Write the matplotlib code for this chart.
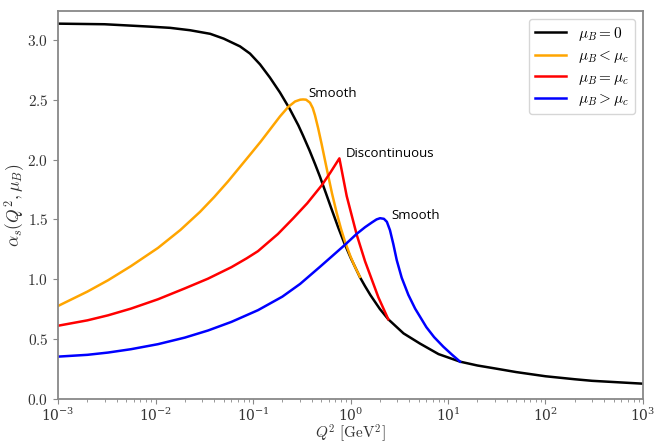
import matplotlib
matplotlib.use('Agg')
import matplotlib.pyplot as plt
from matplotlib.ticker import FuncFormatter

# Values
# mu_B = 0
q2_zero = [1e-3, 3e-3, 0.0088, 0.0141, 0.0226, 0.0364, 0.05, 0.0736, 0.0931, 0.118,
           0.149, 0.189, 0.239, 0.292, 0.326, 0.38, 0.433, 0.486, 0.56, 0.64, 0.75,
           0.86, 1.0, 1.25, 1.41, 1.6, 2.0, 2.44, 3.5, 5.16, 8.0, 13.3, 20, 30, 50,
           100, 200, 300, 1000]
alpha_zero = [3.135, 3.13, 3.11, 3.10, 3.08, 3.05, 3.01, 2.945, 2.885, 2.795,
              2.685, 2.56, 2.42, 2.285, 2.20, 2.076, 1.962, 1.857, 1.718, 1.585, 1.43,
              1.306, 1.182, 1.017, 0.942, 0.868, 0.752, 0.666, 0.548, 0.463, 0.375, 0.312,
              0.28, 0.256, 0.225, 0.19, 0.165, 0.152, 0.128]

# mu_B < mu_c
q2_below = [1e-3, 0.002, 0.00326, 0.0056, 0.0106, 0.018, 0.0286, 0.04, 0.0555, 0.0931,
            0.12, 0.149, 0.189, 0.23, 0.27, 0.305, 0.326, 0.35, 0.384, 0.41, 0.432,
            0.465, 0.505, 0.546, 0.59, 0.646, 0.72, 0.80, 0.88, 1.0, 1.1, 1.25]
alpha_below = [0.777, 0.897, 0.992, 1.11, 1.262, 1.412, 1.563, 1.687, 1.818, 2.04,
               2.15, 2.25, 2.36, 2.44, 2.485, 2.50, 2.502, 2.50, 2.475, 2.43, 2.37,
               2.264, 2.131, 1.998, 1.867, 1.717, 1.557, 1.42, 1.312, 1.19, 1.111, 1.02]

# mu_B = mu_c
q2_equal = [1e-3, 0.002, 0.00326, 0.0056, 0.0106, 0.02, 0.0345, 0.06, 0.0861, 0.1125,
            0.18, 0.259, 0.36, 0.507, 0.62, 0.769, 0.914, 1.16, 1.41, 1.93, 2.44]
alpha_equal = [0.612, 0.657, 0.699, 0.755, 0.833, 0.924, 1.005, 1.101, 1.175, 1.235,
               1.378, 1.51, 1.635, 1.785, 1.89, 2.01, 1.695, 1.37, 1.15, 0.85, 0.666]

# mu_B > mu_c
q2_above = [1e-3, 0.002, 0.00326, 0.0056, 0.0106, 0.02, 0.0345, 0.06, 0.1125, 0.2,
            0.304, 0.486, 0.641, 0.88, 1.16, 1.41, 1.66, 1.85, 2.01, 2.2, 2.36, 2.54,
            2.75, 2.98, 3.35, 3.92, 4.6, 6.0, 7.2, 8.95, 11, 13.3]
alpha_above = [0.354, 0.369, 0.388, 0.416, 0.458, 0.513, 0.572, 0.644, 0.742, 0.855,
               0.961, 1.104, 1.19, 1.289, 1.38, 1.435, 1.475, 1.50, 1.51, 1.505, 1.48, 1.41,
               1.293, 1.16, 1.013, 0.87, 0.755, 0.60, 0.517, 0.437, 0.37, 0.312]

labels = [r'$\mu_B = 0$', r'$\mu_B < \mu_c$', r'$\mu_B = \mu_c$', r'$\mu_B > \mu_c$']
colors = ['black', 'orange', 'red', 'blue']

plt.rcParams['mathtext.fontset'] = 'cm'
plt.rcParams['font.family'] = 'serif'

fig = plt.figure(figsize=(6.67, 4.43), dpi=100)
ax = fig.add_axes([0.087, 0.0993, 0.877, 0.8757])

# Draw curves
series = [(q2_zero, alpha_zero), (q2_below, alpha_below),
          (q2_equal, alpha_equal), (q2_above, alpha_above)]
for (x, y), c, lab in zip(series, colors, labels):
    ax.plot(x, y, color=c, lw=1.8, label=lab, solid_joinstyle='round')

ax.set_xscale('log')
ax.set_xlim(1e-3, 1e3)
ax.set_ylim(0, 3.24)
ax.set_yticks([0.0, 0.5, 1.0, 1.5, 2.0, 2.5, 3.0])
ax.yaxis.set_major_formatter(FuncFormatter(lambda v, p: r'$%.1f$' % v))

# Spines and ticks in grey
for s in ax.spines.values():
    s.set_color('#888888')
    s.set_linewidth(1.3)
ax.tick_params(which='both', colors='#888888', labelcolor='#333333')
ax.tick_params(axis='y', labelsize=11)
ax.tick_params(axis='x', labelsize=10, pad=2)

ax.set_xlabel(r'$Q^2\ [\mathrm{GeV}^2]$', fontsize=11, color='#333333', labelpad=-1)
ax.set_ylabel(r'$\alpha_s(Q^2, \mu_B)$', fontsize=12.5, color='#333333', labelpad=0)

# Annotations
ax.text(0.366, 2.55, 'Smooth', family='Open Sans', fontsize=9.5, va='center', ha='left')
ax.text(0.90, 2.05, 'Discontinuous', family='Open Sans', fontsize=9.5, va='center', ha='left')
ax.text(2.60, 1.53, 'Smooth', family='Open Sans', fontsize=9.5, va='center', ha='left')

ax.legend(loc='upper right', fontsize=11, labelspacing=0.35)

fig.savefig('out.png', dpi=100)
